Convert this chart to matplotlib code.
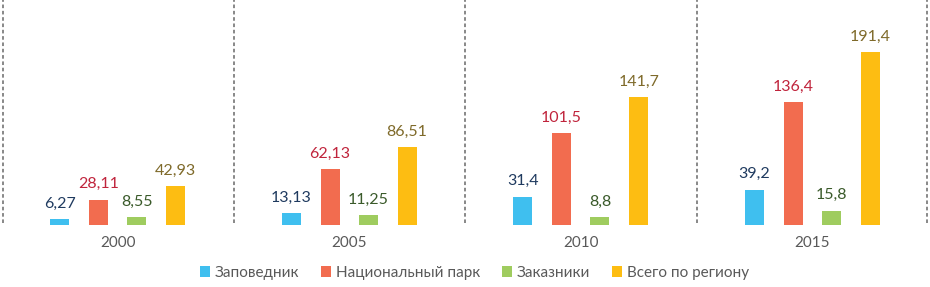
import numpy as np
import matplotlib.pyplot as plt

years = ['2000', '2005', '2010', '2015']
series = ['Заповедник', 'Национальный парк', 'Заказники', 'Всего по региону']
zapovednik = [6.27, 13.13, 31.4, 39.2]
nac_park = [28.11, 62.13, 101.5, 136.4]
zakazniki = [8.55, 11.25, 8.8, 15.8]
vsego = [42.93, 86.51, 141.7, 191.4]
labels = [
    ['6,27', '13,13', '31,4', '39,2'],
    ['28,11', '62,13', '101,5', '136,4'],
    ['8,55', '11,25', '8,8', '15,8'],
    ['42,93', '86,51', '141,7', '191,4'],
]

bar_colors = ['#3fbfef', '#f26c4f', '#9fcc5f', '#fdbd12']
text_colors = ['#1f3a5f', '#c0243c', '#3a5a2a', '#7f6a2a']

plt.rcParams['font.family'] = ['Lato', 'DejaVu Sans']

fig = plt.figure(figsize=(9.3, 2.87), dpi=100)
ax = fig.add_axes([2 / 930, 62 / 287, 926 / 930, 225 / 287])

x = np.arange(len(years))
offsets = [-0.25, -0.083, 0.083, 0.25]
width = 0.082
for i, vals in enumerate([zapovednik, nac_park, zakazniki, vsego]):
    bars = ax.bar(x + offsets[i], vals, width, color=bar_colors[i], label=series[i])
    for b, lab in zip(bars, labels[i]):
        ax.annotate(lab, (b.get_x() + b.get_width() / 2, b.get_height()),
                    xytext=(0, 6), textcoords='offset points',
                    ha='center', va='bottom', fontsize=11.5, color=text_colors[i])

ax.set_xlim(-0.5, 3.5)
ax.set_ylim(0, 249)
for xv in [-0.497, 0.5, 1.5, 2.5, 3.497]:
    ax.plot([xv, xv], [2, 249], color='#7f7f7f', lw=1.3, ls=(0, (2, 1.5)))

for s in ax.spines.values():
    s.set_visible(False)
ax.set_yticks([])
ax.set_xticks([])
for xi, y in zip(x, years):
    ax.text(xi, -0.08, y, transform=ax.get_xaxis_transform(), ha='center', va='center',
            fontsize=11, color='#595959')

fig.legend(loc='center', bbox_to_anchor=(0.51, 14 / 287), ncol=4, frameon=False,
           fontsize=11, handlelength=0.7, handleheight=0.7, handletextpad=0.3,
           columnspacing=1.4, labelcolor='#595959')

fig.savefig('out.png', dpi=100)
